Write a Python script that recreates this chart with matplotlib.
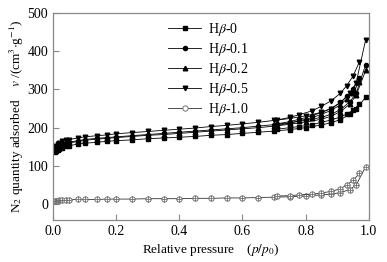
import matplotlib
matplotlib.use('Agg')
import matplotlib.pyplot as plt
from matplotlib.lines import Line2D

plt.rcParams['font.family'] = ['Liberation Serif', 'DejaVu Serif']
plt.rcParams['mathtext.fontset'] = 'stix'

# Relative pressure points (adsorption and desorption branches)
p_ads = [0.005, 0.01, 0.015, 0.02, 0.03, 0.04, 0.05, 0.08, 0.10, 0.14, 0.17, 0.20, 0.25, 0.30, 0.35,
         0.40, 0.45, 0.50, 0.55, 0.60, 0.65, 0.70, 0.75, 0.80, 0.85, 0.88, 0.91, 0.94, 0.96, 0.99]
p_des = [0.97, 0.95, 0.93, 0.91, 0.88, 0.85, 0.82, 0.78, 0.75, 0.71]

labels = [r'H$\beta$-0', r'H$\beta$-0.1', r'H$\beta$-0.2', r'H$\beta$-0.5', r'H$\beta$-1.0']

hb0_ads = [135, 139, 142, 145, 148, 151, 153, 157, 159, 162, 164, 166, 168, 171, 173,
           175, 177, 180, 182, 185, 188, 191, 195, 200, 207, 213, 221, 235, 248, 280]
hb0_des = [262, 245, 236, 228, 220, 214, 208, 203, 200, 196]

hb01_ads = [142, 147, 150, 153, 157, 160, 162, 166, 169, 172, 174, 176, 179, 182, 185,
            188, 191, 194, 197, 200, 204, 208, 213, 219, 227, 235, 247, 268, 290, 365]
hb01_des = [330, 300, 282, 266, 250, 240, 231, 222, 216, 210]

hb02_ads = [140, 145, 149, 152, 155, 158, 160, 164, 167, 170, 172, 174, 177, 180, 182,
            185, 188, 191, 194, 197, 200, 204, 209, 215, 222, 230, 242, 262, 285, 350]
hb02_des = [320, 292, 275, 260, 245, 235, 226, 218, 212, 206]

hb05_ads = [148, 153, 157, 160, 164, 167, 169, 173, 176, 179, 181, 184, 187, 190, 193,
            196, 199, 203, 206, 210, 214, 219, 224, 231, 240, 250, 265, 290, 318, 430]
hb05_des = [372, 335, 310, 290, 270, 256, 244, 234, 227, 220]

hb10_ads = [8, 9, 9, 10, 10, 11, 11, 12, 12, 12, 13, 13, 13, 14, 14,
            14, 15, 15, 16, 16, 17, 18, 19, 21, 24, 26, 30, 38, 50, 98]
hb10_des = [80, 62, 50, 40, 33, 29, 26, 24, 22, 21]

series = [(hb0_ads, hb0_des), (hb01_ads, hb01_des), (hb02_ads, hb02_des),
          (hb05_ads, hb05_des)]
markers = ['s', 'o', '^', 'v']
msizes = [3.0, 3.0, 3.3, 3.3]
grey = '#707070'

fig = plt.figure(figsize=(3.87, 2.62), dpi=100)
ax = fig.add_axes([0.137, 0.160, 0.816, 0.790])

handles = []
for (ads, des), m, ms in zip(series, markers, msizes):
    ax.plot(p_ads, ads, marker=m, color='black', ms=ms, lw=0.6)
    ax.plot(p_des, des, marker=m, color='black', ms=ms, lw=0.6)
    handles.append(Line2D([], [], marker=m, color='black', ms=ms, lw=0.6))

# Hβ-1.0: open circle with a cross inside
for pp, vv in [(p_ads, hb10_ads), (p_des, hb10_des)]:
    ax.plot(pp, vv, marker='o', color='#333333', mfc='white', mec=grey, ms=3.8, mew=0.7, lw=0.6)
    ax.plot(pp, vv, marker='+', color=grey, ms=3.8, mew=0.6, lw=0)
handles.append(Line2D([], [], marker='o', color='#333333', mfc='white', mec=grey, ms=3.8, mew=0.7, lw=0.6))

ax.set_xlim(0, 1.0)
ax.set_ylim(-42, 500)
ax.set_xticks([0.0, 0.2, 0.4, 0.6, 0.8, 1.0])
ax.set_xticklabels(['0.0', '0.2', '0.4', '0.6', '0.8', '1.0'])
ax.set_yticks([0, 100, 200, 300, 400, 500])
ax.tick_params(direction='in', length=4, width=0.8, color='#888888', labelsize=10)
for s in ax.spines.values():
    s.set_color('#888888')
    s.set_linewidth(0.9)

ax.set_xlabel(r'Relative pressure    ($p/p_0$)', fontsize=9.5, labelpad=3)
ax.set_ylabel(r'N$_2$ quantity adsorbed    $v$ /(cm$^3$$\cdot$g$^{-1}$)', fontsize=9.5, labelpad=1)

ax.legend(handles, labels, loc='upper left', bbox_to_anchor=(0.34, 1.0), frameon=False, fontsize=10,
          handlelength=2.4, labelspacing=0.22, handletextpad=0.5, borderaxespad=0.15)

fig.savefig('out.png', dpi=100)
